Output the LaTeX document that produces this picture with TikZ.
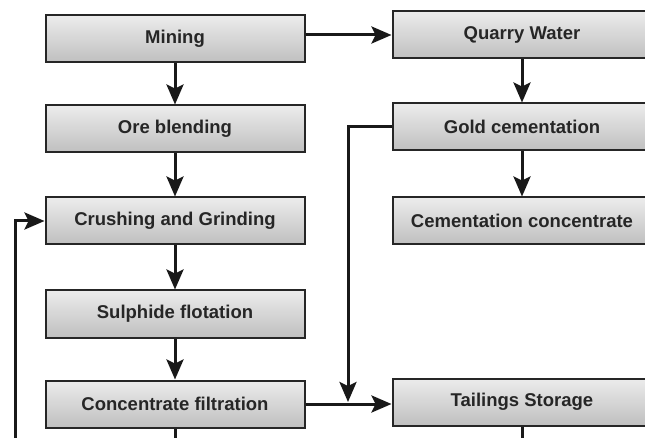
\documentclass[tikz,border=0pt]{standalone}
\usepackage{fontspec}
\setmainfont{Liberation Sans}
\usetikzlibrary{arrows.meta}
\begin{document}
\begin{tikzpicture}[x=1pt,y=-1pt,
  procbox/.style={rectangle, draw=black!85, line width=2pt,
    top color=gray!15, bottom color=gray!50,
    minimum width=259pt, minimum height=47pt, inner sep=0pt,
    font=\fontsize{18.5}{20}\selectfont\bfseries, text=black!85},
  flow/.style={line width=3pt, draw=black!90,
    -{Stealth[length=20pt,width=17pt,inset=4pt]}},
  plain/.style={line width=3pt, draw=black!90}]
\useasboundingbox (0,0) rectangle (645,438);
\fill[white] (0,0) rectangle (645,438);

% process steps, left column
\node[procbox] (mining)  at (175,39)  {Mining};
\node[procbox] (ore)     at (175,129) {Ore blending};
\node[procbox] (crush)   at (175,221) {Crushing and Grinding};
\node[procbox] (sulph)   at (175,314) {Sulphide flotation};
\node[procbox] (filt)    at (175,404) {Concentrate filtration};

% right column
\node[procbox] (quarry)  at (522,35)  {Quarry Water};
\node[procbox] (gold)    at (522,127) {Gold cementation};
\node[procbox] (cconc)   at (522,221) {Cementation concentrate};
\node[procbox] (tail)    at (522,402) {Tailings Storage};

% main flow
\draw[flow] (mining) -- (ore);
\draw[flow] (ore) -- (crush);
\draw[flow] (crush) -- (sulph);
\draw[flow] (sulph) -- (filt);
\draw[flow] (mining.east |- quarry.west) -- (quarry.west);
\draw[flow] (quarry) -- (gold);
\draw[flow] (gold) -- (cconc);
\draw[flow] (filt.east) -- (filt.east -| tail.west);

% cementation return to the tailings line
\coordinate (gturn) at (348,127);
\coordinate (gjoin) at (348,402);
\draw[flow] (gold.west) -- (gturn) -- (gjoin);

% recycle into crushing
\coordinate (rbot) at (15,445);
\coordinate (rtop) at (15,221);
\draw[flow] (rbot) -- (rtop) -- (crush.west);

% outlets leaving the page
\coordinate (fout) at (175,445);
\coordinate (tout) at (522,445);
\draw[plain] (filt.south) -- (fout);
\draw[plain] (tail.south) -- (tout);
\end{tikzpicture}
\end{document}
